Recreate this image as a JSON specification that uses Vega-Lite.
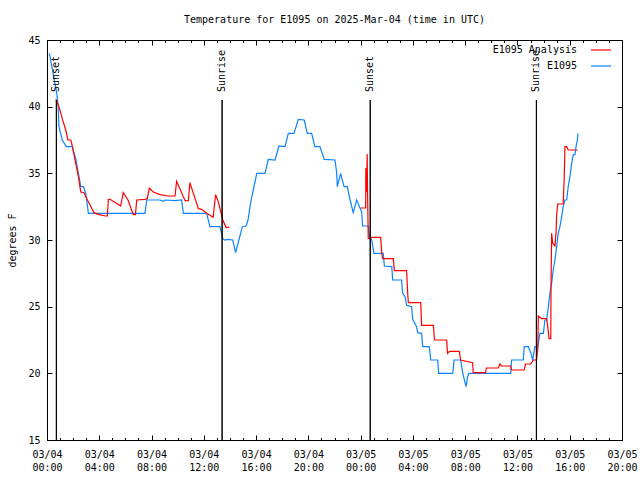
{
"$schema": "https://vega.github.io/schema/vega-lite/v6.json",
"width": 575, "height": 400,
"autosize": {"type": "none"},
"padding": {"left": 47, "top": 40, "right": 18, "bottom": 40},
"background": "white",
"title": {"text": "Temperature for E1095 on 2025-Mar-04 (time in UTC)", "font": "DejaVu Sans Mono", "fontSize": 10, "fontWeight": "normal", "anchor": "middle", "offset": 10, "color": "#000"},
"config": {
 "view": {"stroke": "#000", "strokeWidth": 1},
 "axis": {"labelFont": "DejaVu Sans Mono", "labelFontSize": 10, "labelColor": "#000", "tickColor": "#000", "tickWidth": 1, "titleFont": "DejaVu Sans Mono", "titleFontSize": 10, "titleFontWeight": "normal", "titleColor": "#000", "domain": false, "grid": false},
 "legend": {"orient": "none", "legendX": 543, "legendY": -1, "padding": 0, "symbolType": "stroke", "symbolSize": 400, "symbolStrokeWidth": 1.2, "labelFont": "DejaVu Sans Mono", "labelFontSize": 10, "labelColor": "#000", "labelAlign": "right", "labelOffset": -35, "rowPadding": 0}
},
"resolve": {"axis": {"x": "independent", "y": "independent"}},
"layer": [
 {
  "data": {"values": [
{"t":"2025-03-04T00:11:00Z","v":44.0,"s":"E1095","g":1},
{"t":"2025-03-04T00:28:00Z","v":42.5,"s":"E1095","g":1},
{"t":"2025-03-04T00:45:00Z","v":41.0,"s":"E1095","g":1},
{"t":"2025-03-04T00:51:00Z","v":40.1,"s":"E1095","g":1},
{"t":"2025-03-04T00:55:00Z","v":38.5,"s":"E1095","g":1},
{"t":"2025-03-04T01:10:00Z","v":37.5,"s":"E1095","g":1},
{"t":"2025-03-04T01:29:00Z","v":37.0,"s":"E1095","g":1},
{"t":"2025-03-04T01:56:00Z","v":37.0,"s":"E1095","g":1},
{"t":"2025-03-04T02:12:00Z","v":36.1,"s":"E1095","g":1},
{"t":"2025-03-04T02:27:00Z","v":34.75,"s":"E1095","g":1},
{"t":"2025-03-04T02:35:00Z","v":34.0,"s":"E1095","g":1},
{"t":"2025-03-04T02:47:00Z","v":34.0,"s":"E1095","g":1},
{"t":"2025-03-04T02:58:00Z","v":33.5,"s":"E1095","g":1},
{"t":"2025-03-04T03:10:00Z","v":32.0,"s":"E1095","g":1},
{"t":"2025-03-04T07:30:00Z","v":32.0,"s":"E1095","g":1},
{"t":"2025-03-04T07:38:00Z","v":33.0,"s":"E1095","g":1},
{"t":"2025-03-04T08:39:00Z","v":33.0,"s":"E1095","g":1},
{"t":"2025-03-04T08:53:00Z","v":32.9,"s":"E1095","g":1},
{"t":"2025-03-04T09:02:00Z","v":33.0,"s":"E1095","g":1},
{"t":"2025-03-04T09:48:00Z","v":32.95,"s":"E1095","g":1},
{"t":"2025-03-04T10:18:00Z","v":33.0,"s":"E1095","g":1},
{"t":"2025-03-04T10:26:00Z","v":32.0,"s":"E1095","g":1},
{"t":"2025-03-04T12:13:00Z","v":32.0,"s":"E1095","g":1},
{"t":"2025-03-04T12:28:00Z","v":31.0,"s":"E1095","g":1},
{"t":"2025-03-04T13:14:00Z","v":31.0,"s":"E1095","g":1},
{"t":"2025-03-04T13:27:00Z","v":30.1,"s":"E1095","g":1},
{"t":"2025-03-04T13:37:00Z","v":30.0,"s":"E1095","g":1},
{"t":"2025-03-04T13:51:00Z","v":30.05,"s":"E1095","g":1},
{"t":"2025-03-04T14:13:00Z","v":30.0,"s":"E1095","g":1},
{"t":"2025-03-04T14:26:00Z","v":29.05,"s":"E1095","g":1},
{"t":"2025-03-04T14:41:00Z","v":30.0,"s":"E1095","g":1},
{"t":"2025-03-04T14:57:00Z","v":31.0,"s":"E1095","g":1},
{"t":"2025-03-04T15:14:00Z","v":31.05,"s":"E1095","g":1},
{"t":"2025-03-04T15:23:00Z","v":31.5,"s":"E1095","g":1},
{"t":"2025-03-04T15:32:00Z","v":32.5,"s":"E1095","g":1},
{"t":"2025-03-04T15:41:00Z","v":33.3,"s":"E1095","g":1},
{"t":"2025-03-04T15:53:00Z","v":34.2,"s":"E1095","g":1},
{"t":"2025-03-04T16:03:00Z","v":35.0,"s":"E1095","g":1},
{"t":"2025-03-04T16:41:00Z","v":35.0,"s":"E1095","g":1},
{"t":"2025-03-04T16:56:00Z","v":36.05,"s":"E1095","g":1},
{"t":"2025-03-04T17:27:00Z","v":36.0,"s":"E1095","g":1},
{"t":"2025-03-04T17:45:00Z","v":37.05,"s":"E1095","g":1},
{"t":"2025-03-04T18:13:00Z","v":37.0,"s":"E1095","g":1},
{"t":"2025-03-04T18:28:00Z","v":38.0,"s":"E1095","g":1},
{"t":"2025-03-04T18:54:00Z","v":38.0,"s":"E1095","g":1},
{"t":"2025-03-04T19:14:00Z","v":39.05,"s":"E1095","g":1},
{"t":"2025-03-04T19:41:00Z","v":39.0,"s":"E1095","g":1},
{"t":"2025-03-04T19:55:00Z","v":38.0,"s":"E1095","g":1},
{"t":"2025-03-04T20:15:00Z","v":38.0,"s":"E1095","g":1},
{"t":"2025-03-04T20:30:00Z","v":37.0,"s":"E1095","g":1},
{"t":"2025-03-04T20:53:00Z","v":37.0,"s":"E1095","g":1},
{"t":"2025-03-04T21:13:00Z","v":36.05,"s":"E1095","g":1},
{"t":"2025-03-04T22:02:00Z","v":36.0,"s":"E1095","g":1},
{"t":"2025-03-04T22:10:00Z","v":35.05,"s":"E1095","g":1},
{"t":"2025-03-04T22:13:00Z","v":34.0,"s":"E1095","g":1},
{"t":"2025-03-04T22:28:00Z","v":35.0,"s":"E1095","g":1},
{"t":"2025-03-04T22:44:00Z","v":34.0,"s":"E1095","g":1},
{"t":"2025-03-04T22:59:00Z","v":34.0,"s":"E1095","g":1},
{"t":"2025-03-04T23:11:00Z","v":33.05,"s":"E1095","g":1},
{"t":"2025-03-04T23:26:00Z","v":32.05,"s":"E1095","g":1},
{"t":"2025-03-04T23:42:00Z","v":33.0,"s":"E1095","g":1},
{"t":"2025-03-04T23:57:00Z","v":32.4,"s":"E1095","g":1},
{"t":"2025-03-05T00:05:00Z","v":32.1,"s":"E1095","g":1},
{"t":"2025-03-05T00:09:00Z","v":31.05,"s":"E1095","g":1},
{"t":"2025-03-05T00:35:00Z","v":31.05,"s":"E1095","g":1},
{"t":"2025-03-05T00:40:00Z","v":30.25,"s":"E1095","g":1},
{"t":"2025-03-05T00:51:00Z","v":30.0,"s":"E1095","g":1},
{"t":"2025-03-05T01:01:00Z","v":29.0,"s":"E1095","g":1},
{"t":"2025-03-05T01:44:00Z","v":29.0,"s":"E1095","g":1},
{"t":"2025-03-05T01:49:00Z","v":28.05,"s":"E1095","g":1},
{"t":"2025-03-05T02:23:00Z","v":28.0,"s":"E1095","g":1},
{"t":"2025-03-05T02:27:00Z","v":27.0,"s":"E1095","g":1},
{"t":"2025-03-05T03:08:00Z","v":27.0,"s":"E1095","g":1},
{"t":"2025-03-05T03:13:00Z","v":26.0,"s":"E1095","g":1},
{"t":"2025-03-05T03:24:00Z","v":25.75,"s":"E1095","g":1},
{"t":"2025-03-05T03:31:00Z","v":25.1,"s":"E1095","g":1},
{"t":"2025-03-05T03:54:00Z","v":25.0,"s":"E1095","g":1},
{"t":"2025-03-05T03:59:00Z","v":24.05,"s":"E1095","g":1},
{"t":"2025-03-05T04:17:00Z","v":23.5,"s":"E1095","g":1},
{"t":"2025-03-05T04:22:00Z","v":23.05,"s":"E1095","g":1},
{"t":"2025-03-05T04:40:00Z","v":23.0,"s":"E1095","g":1},
{"t":"2025-03-05T04:45:00Z","v":22.0,"s":"E1095","g":1},
{"t":"2025-03-05T05:15:00Z","v":22.0,"s":"E1095","g":1},
{"t":"2025-03-05T05:22:00Z","v":21.0,"s":"E1095","g":1},
{"t":"2025-03-05T05:54:00Z","v":21.0,"s":"E1095","g":1},
{"t":"2025-03-05T05:58:00Z","v":20.0,"s":"E1095","g":1},
{"t":"2025-03-05T07:03:00Z","v":20.0,"s":"E1095","g":1},
{"t":"2025-03-05T07:09:00Z","v":21.0,"s":"E1095","g":1},
{"t":"2025-03-05T07:39:00Z","v":21.0,"s":"E1095","g":1},
{"t":"2025-03-05T07:49:00Z","v":20.0,"s":"E1095","g":1},
{"t":"2025-03-05T08:04:00Z","v":19.0,"s":"E1095","g":1},
{"t":"2025-03-05T08:11:00Z","v":19.75,"s":"E1095","g":1},
{"t":"2025-03-05T08:17:00Z","v":20.0,"s":"E1095","g":1},
{"t":"2025-03-05T11:29:00Z","v":20.0,"s":"E1095","g":1},
{"t":"2025-03-05T11:33:00Z","v":21.0,"s":"E1095","g":1},
{"t":"2025-03-05T12:27:00Z","v":21.0,"s":"E1095","g":1},
{"t":"2025-03-05T12:31:00Z","v":22.0,"s":"E1095","g":1},
{"t":"2025-03-05T12:50:00Z","v":22.0,"s":"E1095","g":1},
{"t":"2025-03-05T13:02:00Z","v":21.5,"s":"E1095","g":1},
{"t":"2025-03-05T13:10:00Z","v":21.0,"s":"E1095","g":1},
{"t":"2025-03-05T13:20:00Z","v":22.0,"s":"E1095","g":1},
{"t":"2025-03-05T13:34:00Z","v":22.0,"s":"E1095","g":1},
{"t":"2025-03-05T13:43:00Z","v":23.0,"s":"E1095","g":1},
{"t":"2025-03-05T13:59:00Z","v":23.0,"s":"E1095","g":1},
{"t":"2025-03-05T14:06:00Z","v":24.0,"s":"E1095","g":1},
{"t":"2025-03-05T14:14:00Z","v":24.0,"s":"E1095","g":1},
{"t":"2025-03-05T14:22:00Z","v":25.0,"s":"E1095","g":1},
{"t":"2025-03-05T14:29:00Z","v":26.0,"s":"E1095","g":1},
{"t":"2025-03-05T14:37:00Z","v":26.75,"s":"E1095","g":1},
{"t":"2025-03-05T14:44:00Z","v":27.75,"s":"E1095","g":1},
{"t":"2025-03-05T14:52:00Z","v":28.5,"s":"E1095","g":1},
{"t":"2025-03-05T15:00:00Z","v":29.5,"s":"E1095","g":1},
{"t":"2025-03-05T15:07:00Z","v":30.5,"s":"E1095","g":1},
{"t":"2025-03-05T15:15:00Z","v":31.0,"s":"E1095","g":1},
{"t":"2025-03-05T15:23:00Z","v":31.75,"s":"E1095","g":1},
{"t":"2025-03-05T15:30:00Z","v":32.5,"s":"E1095","g":1},
{"t":"2025-03-05T15:38:00Z","v":33.0,"s":"E1095","g":1},
{"t":"2025-03-05T15:46:00Z","v":33.0,"s":"E1095","g":1},
{"t":"2025-03-05T15:53:00Z","v":34.0,"s":"E1095","g":1},
{"t":"2025-03-05T16:01:00Z","v":34.75,"s":"E1095","g":1},
{"t":"2025-03-05T16:09:00Z","v":35.75,"s":"E1095","g":1},
{"t":"2025-03-05T16:16:00Z","v":36.4,"s":"E1095","g":1},
{"t":"2025-03-05T16:24:00Z","v":36.4,"s":"E1095","g":1},
{"t":"2025-03-05T16:29:00Z","v":37.0,"s":"E1095","g":1},
{"t":"2025-03-05T16:35:00Z","v":37.5,"s":"E1095","g":1},
{"t":"2025-03-05T16:38:00Z","v":38.0,"s":"E1095","g":1},
{"t":"2025-03-04T00:41:00Z","v":40.55,"s":"E1095 Analysis","g":2},
{"t":"2025-03-04T00:55:00Z","v":40.0,"s":"E1095 Analysis","g":2},
{"t":"2025-03-04T01:10:00Z","v":39.1,"s":"E1095 Analysis","g":2},
{"t":"2025-03-04T01:26:00Z","v":38.25,"s":"E1095 Analysis","g":2},
{"t":"2025-03-04T01:36:00Z","v":37.5,"s":"E1095 Analysis","g":2},
{"t":"2025-03-04T01:49:00Z","v":37.5,"s":"E1095 Analysis","g":2},
{"t":"2025-03-04T01:56:00Z","v":37.05,"s":"E1095 Analysis","g":2},
{"t":"2025-03-04T02:12:00Z","v":35.75,"s":"E1095 Analysis","g":2},
{"t":"2025-03-04T02:24:00Z","v":34.75,"s":"E1095 Analysis","g":2},
{"t":"2025-03-04T02:35:00Z","v":33.6,"s":"E1095 Analysis","g":2},
{"t":"2025-03-04T02:50:00Z","v":33.55,"s":"E1095 Analysis","g":2},
{"t":"2025-03-04T02:58:00Z","v":33.25,"s":"E1095 Analysis","g":2},
{"t":"2025-03-04T03:36:00Z","v":32.05,"s":"E1095 Analysis","g":2},
{"t":"2025-03-04T03:59:00Z","v":31.9,"s":"E1095 Analysis","g":2},
{"t":"2025-03-04T04:29:00Z","v":31.8,"s":"E1095 Analysis","g":2},
{"t":"2025-03-04T04:37:00Z","v":31.8,"s":"E1095 Analysis","g":2},
{"t":"2025-03-04T04:42:00Z","v":33.05,"s":"E1095 Analysis","g":2},
{"t":"2025-03-04T04:49:00Z","v":33.05,"s":"E1095 Analysis","g":2},
{"t":"2025-03-04T05:15:00Z","v":32.8,"s":"E1095 Analysis","g":2},
{"t":"2025-03-04T05:38:00Z","v":32.55,"s":"E1095 Analysis","g":2},
{"t":"2025-03-04T05:50:00Z","v":33.55,"s":"E1095 Analysis","g":2},
{"t":"2025-03-04T06:12:00Z","v":33.0,"s":"E1095 Analysis","g":2},
{"t":"2025-03-04T06:36:00Z","v":31.9,"s":"E1095 Analysis","g":2},
{"t":"2025-03-04T06:46:00Z","v":31.9,"s":"E1095 Analysis","g":2},
{"t":"2025-03-04T06:52:00Z","v":33.0,"s":"E1095 Analysis","g":2},
{"t":"2025-03-04T07:30:00Z","v":33.05,"s":"E1095 Analysis","g":2},
{"t":"2025-03-04T07:40:00Z","v":33.1,"s":"E1095 Analysis","g":2},
{"t":"2025-03-04T07:50:00Z","v":33.88,"s":"E1095 Analysis","g":2},
{"t":"2025-03-04T08:08:00Z","v":33.6,"s":"E1095 Analysis","g":2},
{"t":"2025-03-04T08:39:00Z","v":33.4,"s":"E1095 Analysis","g":2},
{"t":"2025-03-04T09:17:00Z","v":33.3,"s":"E1095 Analysis","g":2},
{"t":"2025-03-04T09:48:00Z","v":33.3,"s":"E1095 Analysis","g":2},
{"t":"2025-03-04T09:55:00Z","v":34.4,"s":"E1095 Analysis","g":2},
{"t":"2025-03-04T10:34:00Z","v":32.95,"s":"E1095 Analysis","g":2},
{"t":"2025-03-04T10:49:00Z","v":32.95,"s":"E1095 Analysis","g":2},
{"t":"2025-03-04T10:56:00Z","v":34.3,"s":"E1095 Analysis","g":2},
{"t":"2025-03-04T11:35:00Z","v":32.35,"s":"E1095 Analysis","g":2},
{"t":"2025-03-04T11:50:00Z","v":32.3,"s":"E1095 Analysis","g":2},
{"t":"2025-03-04T12:13:00Z","v":32.0,"s":"E1095 Analysis","g":2},
{"t":"2025-03-04T12:43:00Z","v":31.7,"s":"E1095 Analysis","g":2},
{"t":"2025-03-04T12:54:00Z","v":33.4,"s":"E1095 Analysis","g":2},
{"t":"2025-03-04T13:06:00Z","v":32.9,"s":"E1095 Analysis","g":2},
{"t":"2025-03-04T13:27:00Z","v":31.5,"s":"E1095 Analysis","g":2},
{"t":"2025-03-04T13:42:00Z","v":30.95,"s":"E1095 Analysis","g":2},
{"t":"2025-03-04T13:57:00Z","v":30.95,"s":"E1095 Analysis","g":2},
{"t":"2025-03-05T00:00:00Z","v":32.4,"s":"E1095 Analysis","g":3},
{"t":"2025-03-05T00:23:00Z","v":32.4,"s":"E1095 Analysis","g":3},
{"t":"2025-03-05T00:24:00Z","v":35.4,"s":"E1095 Analysis","g":3},
{"t":"2025-03-05T00:27:00Z","v":33.6,"s":"E1095 Analysis","g":3},
{"t":"2025-03-05T00:30:00Z","v":36.45,"s":"E1095 Analysis","g":3},
{"t":"2025-03-05T00:32:00Z","v":33.4,"s":"E1095 Analysis","g":3},
{"t":"2025-03-05T00:35:00Z","v":30.1,"s":"E1095 Analysis","g":3},
{"t":"2025-03-05T00:43:00Z","v":30.1,"s":"E1095 Analysis","g":3},
{"t":"2025-03-05T00:51:00Z","v":30.2,"s":"E1095 Analysis","g":3},
{"t":"2025-03-05T01:32:00Z","v":30.2,"s":"E1095 Analysis","g":3},
{"t":"2025-03-05T01:37:00Z","v":29.0,"s":"E1095 Analysis","g":3},
{"t":"2025-03-05T01:41:00Z","v":28.6,"s":"E1095 Analysis","g":3},
{"t":"2025-03-05T02:30:00Z","v":28.6,"s":"E1095 Analysis","g":3},
{"t":"2025-03-05T02:35:00Z","v":27.7,"s":"E1095 Analysis","g":3},
{"t":"2025-03-05T03:31:00Z","v":27.7,"s":"E1095 Analysis","g":3},
{"t":"2025-03-05T03:36:00Z","v":26.0,"s":"E1095 Analysis","g":3},
{"t":"2025-03-05T03:39:00Z","v":25.3,"s":"E1095 Analysis","g":3},
{"t":"2025-03-05T04:36:00Z","v":25.3,"s":"E1095 Analysis","g":3},
{"t":"2025-03-05T04:40:00Z","v":23.6,"s":"E1095 Analysis","g":3},
{"t":"2025-03-05T05:34:00Z","v":23.6,"s":"E1095 Analysis","g":3},
{"t":"2025-03-05T05:39:00Z","v":22.5,"s":"E1095 Analysis","g":3},
{"t":"2025-03-05T06:35:00Z","v":22.5,"s":"E1095 Analysis","g":3},
{"t":"2025-03-05T06:39:00Z","v":21.5,"s":"E1095 Analysis","g":3},
{"t":"2025-03-05T06:48:00Z","v":21.65,"s":"E1095 Analysis","g":3},
{"t":"2025-03-05T07:33:00Z","v":21.65,"s":"E1095 Analysis","g":3},
{"t":"2025-03-05T07:39:00Z","v":21.0,"s":"E1095 Analysis","g":3},
{"t":"2025-03-05T08:34:00Z","v":20.8,"s":"E1095 Analysis","g":3},
{"t":"2025-03-05T08:37:00Z","v":20.05,"s":"E1095 Analysis","g":3},
{"t":"2025-03-05T09:34:00Z","v":20.05,"s":"E1095 Analysis","g":3},
{"t":"2025-03-05T09:37:00Z","v":20.4,"s":"E1095 Analysis","g":3},
{"t":"2025-03-05T10:32:00Z","v":20.4,"s":"E1095 Analysis","g":3},
{"t":"2025-03-05T10:40:00Z","v":20.7,"s":"E1095 Analysis","g":3},
{"t":"2025-03-05T10:47:00Z","v":20.55,"s":"E1095 Analysis","g":3},
{"t":"2025-03-05T11:29:00Z","v":20.55,"s":"E1095 Analysis","g":3},
{"t":"2025-03-05T11:33:00Z","v":20.25,"s":"E1095 Analysis","g":3},
{"t":"2025-03-05T12:31:00Z","v":20.25,"s":"E1095 Analysis","g":3},
{"t":"2025-03-05T12:37:00Z","v":20.7,"s":"E1095 Analysis","g":3},
{"t":"2025-03-05T13:00:00Z","v":20.7,"s":"E1095 Analysis","g":3},
{"t":"2025-03-05T13:05:00Z","v":20.8,"s":"E1095 Analysis","g":3},
{"t":"2025-03-05T13:13:00Z","v":21.0,"s":"E1095 Analysis","g":3},
{"t":"2025-03-05T13:28:00Z","v":21.0,"s":"E1095 Analysis","g":3},
{"t":"2025-03-05T13:33:00Z","v":21.75,"s":"E1095 Analysis","g":3},
{"t":"2025-03-05T13:36:00Z","v":24.3,"s":"E1095 Analysis","g":3},
{"t":"2025-03-05T13:51:00Z","v":24.1,"s":"E1095 Analysis","g":3},
{"t":"2025-03-05T14:14:00Z","v":24.1,"s":"E1095 Analysis","g":3},
{"t":"2025-03-05T14:19:00Z","v":23.5,"s":"E1095 Analysis","g":3},
{"t":"2025-03-05T14:25:00Z","v":22.6,"s":"E1095 Analysis","g":3},
{"t":"2025-03-05T14:33:00Z","v":22.6,"s":"E1095 Analysis","g":3},
{"t":"2025-03-05T14:34:00Z","v":26.5,"s":"E1095 Analysis","g":3},
{"t":"2025-03-05T14:37:00Z","v":30.5,"s":"E1095 Analysis","g":3},
{"t":"2025-03-05T14:42:00Z","v":29.75,"s":"E1095 Analysis","g":3},
{"t":"2025-03-05T14:52:00Z","v":29.55,"s":"E1095 Analysis","g":3},
{"t":"2025-03-05T14:57:00Z","v":30.5,"s":"E1095 Analysis","g":3},
{"t":"2025-03-05T15:00:00Z","v":31.9,"s":"E1095 Analysis","g":3},
{"t":"2025-03-05T15:05:00Z","v":32.7,"s":"E1095 Analysis","g":3},
{"t":"2025-03-05T15:30:00Z","v":32.7,"s":"E1095 Analysis","g":3},
{"t":"2025-03-05T15:35:00Z","v":34.8,"s":"E1095 Analysis","g":3},
{"t":"2025-03-05T15:38:00Z","v":37.0,"s":"E1095 Analysis","g":3},
{"t":"2025-03-05T15:46:00Z","v":37.0,"s":"E1095 Analysis","g":3},
{"t":"2025-03-05T15:53:00Z","v":36.75,"s":"E1095 Analysis","g":3},
{"t":"2025-03-05T16:36:00Z","v":36.75,"s":"E1095 Analysis","g":3}
  ]},
  "mark": {"type": "line", "strokeWidth": 1.2},
  "encoding": {
   "x": {"field": "t", "type": "temporal",
     "scale": {"type": "utc", "domain": [{"year": 2025, "month": 3, "date": 4, "hours": 0, "utc": true}, {"year": 2025, "month": 3, "date": 5, "hours": 20, "utc": true}], "nice": false},
     "axis": {"orient": "bottom", "title": null, "offset": -5, "tickSize": 5,
       "values": [
        {"year": 2025, "month": 3, "date": 4, "hours": 0, "utc": true},
        {"year": 2025, "month": 3, "date": 4, "hours": 4, "utc": true},
        {"year": 2025, "month": 3, "date": 4, "hours": 8, "utc": true},
        {"year": 2025, "month": 3, "date": 4, "hours": 12, "utc": true},
        {"year": 2025, "month": 3, "date": 4, "hours": 16, "utc": true},
        {"year": 2025, "month": 3, "date": 4, "hours": 20, "utc": true},
        {"year": 2025, "month": 3, "date": 5, "hours": 0, "utc": true},
        {"year": 2025, "month": 3, "date": 5, "hours": 4, "utc": true},
        {"year": 2025, "month": 3, "date": 5, "hours": 8, "utc": true},
        {"year": 2025, "month": 3, "date": 5, "hours": 12, "utc": true},
        {"year": 2025, "month": 3, "date": 5, "hours": 16, "utc": true},
        {"year": 2025, "month": 3, "date": 5, "hours": 20, "utc": true}
       ],
       "labelExpr": "[utcFormat(datum.value, '%m/%d'), utcFormat(datum.value, '%H:%M')]",
       "labelOverlap": false, "labelFlush": false, "labelBaseline": "top", "labelPadding": 9, "labelLineHeight": 13}},
   "y": {"field": "v", "type": "quantitative", "scale": {"domain": [15, 45], "nice": false, "zero": false},
     "axis": {"orient": "left", "values": [15, 20, 25, 30, 35, 40, 45], "offset": -5, "tickSize": 5, "labelPadding": 7, "title": "degrees F", "titlePadding": 10}},
   "color": {"field": "s", "type": "nominal", "scale": {"domain": ["E1095 Analysis", "E1095"], "range": ["#ff0000", "#0a84ff"]}, "legend": {"title": null}},
   "detail": {"field": "g", "type": "nominal"}
  }
 },
 {
  "data": {"values": [
   {"t": "2025-03-04T00:43:00Z", "e": "Sunset"},
   {"t": "2025-03-04T13:24:00Z", "e": "Sunrise"},
   {"t": "2025-03-05T00:44:00Z", "e": "Sunset"},
   {"t": "2025-03-05T13:27:00Z", "e": "Sunrise"}
  ]},
  "mark": {"type": "rule", "color": "#000", "strokeWidth": 1},
  "encoding": {
   "x": {"field": "t", "type": "temporal",
     "axis": {"orient": "top", "title": null, "labels": false, "offset": -5, "tickSize": 5,
       "values": [
        {"year": 2025, "month": 3, "date": 4, "hours": 0, "utc": true},
        {"year": 2025, "month": 3, "date": 4, "hours": 4, "utc": true},
        {"year": 2025, "month": 3, "date": 4, "hours": 8, "utc": true},
        {"year": 2025, "month": 3, "date": 4, "hours": 12, "utc": true},
        {"year": 2025, "month": 3, "date": 4, "hours": 16, "utc": true},
        {"year": 2025, "month": 3, "date": 4, "hours": 20, "utc": true},
        {"year": 2025, "month": 3, "date": 5, "hours": 0, "utc": true},
        {"year": 2025, "month": 3, "date": 5, "hours": 4, "utc": true},
        {"year": 2025, "month": 3, "date": 5, "hours": 8, "utc": true},
        {"year": 2025, "month": 3, "date": 5, "hours": 12, "utc": true},
        {"year": 2025, "month": 3, "date": 5, "hours": 16, "utc": true},
        {"year": 2025, "month": 3, "date": 5, "hours": 20, "utc": true}
       ]}},
   "y": {"datum": 15, "type": "quantitative",
     "axis": {"orient": "right", "title": null, "labels": false, "offset": -5, "tickSize": 5, "values": [15, 20, 25, 30, 35, 40, 45]}},
   "y2": {"datum": 40.5}
  }
 },
 {
  "data": {"values": [
   {"t": "2025-03-04T00:43:00Z", "e": "Sunset"},
   {"t": "2025-03-04T13:24:00Z", "e": "Sunrise"},
   {"t": "2025-03-05T00:44:00Z", "e": "Sunset"},
   {"t": "2025-03-05T13:27:00Z", "e": "Sunrise"}
  ]},
  "mark": {"type": "text", "angle": 270, "align": "left", "baseline": "middle", "font": "DejaVu Sans Mono", "fontSize": 10, "color": "#000"},
  "encoding": {
   "x": {"field": "t", "type": "temporal",
     "axis": {"orient": "bottom", "title": null, "labels": false, "offset": -2.5, "tickSize": 2.5, "tickCount": 44}},
   "y": {"datum": 41.1, "type": "quantitative", "axis": null},
   "text": {"field": "e"}
  }
 },
 {
  "data": {"values": [
   {"t": "2025-03-04T00:43:00Z", "e": "Sunset"},
   {"t": "2025-03-04T13:24:00Z", "e": "Sunrise"},
   {"t": "2025-03-05T00:44:00Z", "e": "Sunset"},
   {"t": "2025-03-05T13:27:00Z", "e": "Sunrise"}
  ]},
  "mark": {"type": "rule", "color": "#000", "strokeWidth": 1},
  "encoding": {
   "x": {"field": "t", "type": "temporal",
     "axis": {"orient": "top", "title": null, "labels": false, "offset": -2.5, "tickSize": 2.5, "tickCount": 44}},
   "y": {"datum": 15, "type": "quantitative", "axis": null},
   "y2": {"datum": 40.5}
  }
 }
]
}
